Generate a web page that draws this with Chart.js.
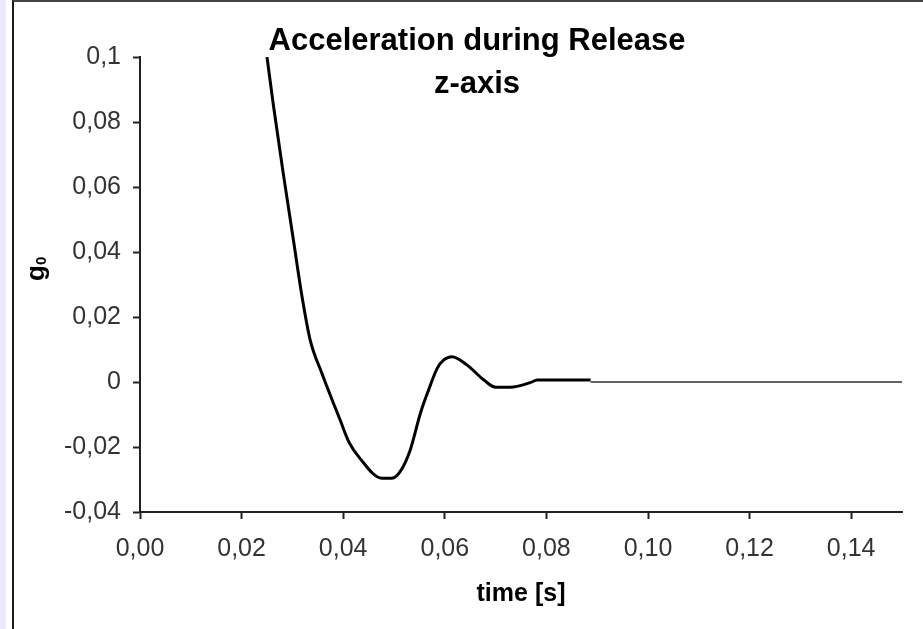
<!DOCTYPE html>
<html>
<head>
<meta charset="utf-8">
<script src="https://cdn.jsdelivr.net/npm/chart.js@4/dist/chart.umd.min.js"></script>
<style>
  html, body { margin: 0; padding: 0; background: #fff; }
  #wrap { position: relative; width: 923px; height: 629px; overflow: hidden; }
  #strip { position: absolute; left: 0; top: 0; width: 6px; height: 629px; background: #ebebfa; }
  #frame { position: absolute; left: 12px; top: 0; width: 911px; height: 640px; box-sizing: border-box;
           border-left: 2px solid #1a1a1a; border-top: 2px solid #444; }
  #myChart { position: absolute; left: 0; top: 0; }
</style>
</head>
<body>
<div id="wrap">
  <div id="strip"></div>
  <div id="frame"></div>
  <canvas id="myChart" width="923" height="629"></canvas>
</div>
<script>
// values
var timeMain = [0.0250, 0.0263, 0.0282, 0.0302, 0.0319, 0.0335, 0.0358, 0.0381, 0.0394, 0.0411, 0.0433,
                0.0476, 0.0496, 0.0512, 0.0532, 0.0552, 0.0568, 0.0585, 0.0598, 0.0614, 0.0644,
                0.0677, 0.0700, 0.0729, 0.0768, 0.0782, 0.0887];
var accelMain = [0.1000, 0.0847, 0.0642, 0.0437, 0.0262, 0.0129, 0.0027, -0.0066, -0.0117, -0.0184, -0.0235,
                 -0.0296, -0.0296, -0.0276, -0.0209, -0.0096, -0.0025, 0.0042, 0.0068, 0.0078, 0.0052,
                 0.0006, -0.0016, -0.0016, -0.0002, 0.0006, 0.0006];
var timeTail = [0.0887, 0.15];
var accelTail = [0, 0];

var xTickLabels = ["0,00", "0,02", "0,04", "0,06", "0,08", "0,10", "0,12", "0,14"];
var yTickLabels = ["-0,04", "-0,02", "0", "0,02", "0,04", "0,06", "0,08", "0,1"];
var titleLines = ["Acceleration during Release", "z-axis"];

var fontFamily = '"Liberation Sans", Arial, sans-serif';

function toPoints(xs, ys) {
    return xs.map(function (x, i) { return { x: x, y: ys[i] }; });
}

// title and y axis label are drawn at fixed spots, like the original sheet
var labelPlugin = {
    id: 'labelPlugin',
    afterDraw: function (chart) {
        var ctx = chart.ctx;
        ctx.save();
        ctx.fillStyle = '#000';
        ctx.textAlign = 'center';
        ctx.textBaseline = 'alphabetic';
        ctx.font = 'bold 31px ' + fontFamily;
        ctx.fillText(titleLines[0], 477, 50);
        ctx.fillText(titleLines[1], 477, 93);

        ctx.translate(44, 281);
        ctx.rotate(-Math.PI / 2);
        ctx.textAlign = 'left';
        ctx.font = 'bold 26px ' + fontFamily;
        ctx.fillText('g', 0, 0);
        var w = ctx.measureText('g').width;
        ctx.font = 'bold 15px ' + fontFamily;
        ctx.fillText('0', w, 2);
        ctx.restore();
    }
};

var ctx = document.getElementById("myChart");
var myChart = new Chart(ctx, {
    type: 'scatter',
    data: {
        datasets: [
            {
                label: "z",
                data: toPoints(timeMain, accelMain),
                showLine: true,
                borderColor: "#000",
                borderWidth: 3,
                pointRadius: 0,
                cubicInterpolationMode: 'monotone'
            },
            {
                label: "z tail",
                data: toPoints(timeTail, accelTail),
                showLine: true,
                borderColor: "#333",
                borderWidth: 1.5,
                pointRadius: 0
            }
        ]
    },
    options: {
        responsive: false,
        animation: false,
        layout: { padding: { left: 0, right: 21, top: 57, bottom: 0 } },
        plugins: {
            legend: { display: false },
            tooltip: { enabled: false }
        },
        scales: {
            x: {
                type: 'linear',
                min: 0,
                max: 0.15,
                border: { display: true, color: '#222', width: 2 },
                grid: { drawOnChartArea: false, tickLength: 7, tickColor: '#222', tickWidth: 2 },
                ticks: {
                    stepSize: 0.02,
                    includeBounds: false,
                    maxRotation: 0,
                    padding: 15,
                    color: '#333',
                    font: { family: fontFamily, size: 25 },
                    callback: function (v, i) { return xTickLabels[i]; }
                },
                title: {
                    display: true,
                    text: 'time [s]',
                    color: '#000',
                    font: { family: fontFamily, size: 25, weight: 'bold' },
                    padding: { top: 0, bottom: 20 }
                },
                afterFit: function (scale) { scale.height = 117; }
            },
            y: {
                type: 'linear',
                min: -0.04,
                max: 0.1,
                border: { display: true, color: '#222', width: 2 },
                grid: { drawOnChartArea: false, tickLength: 7, tickColor: '#222', tickWidth: 2 },
                ticks: {
                    stepSize: 0.02,
                    padding: 12,
                    color: '#333',
                    font: { family: fontFamily, size: 25 },
                    callback: function (v, i) { return yTickLabels[i]; }
                },
                afterFit: function (scale) { scale.width = 140; }
            }
        }
    },
    plugins: [labelPlugin]
});
</script>
</body>
</html>
